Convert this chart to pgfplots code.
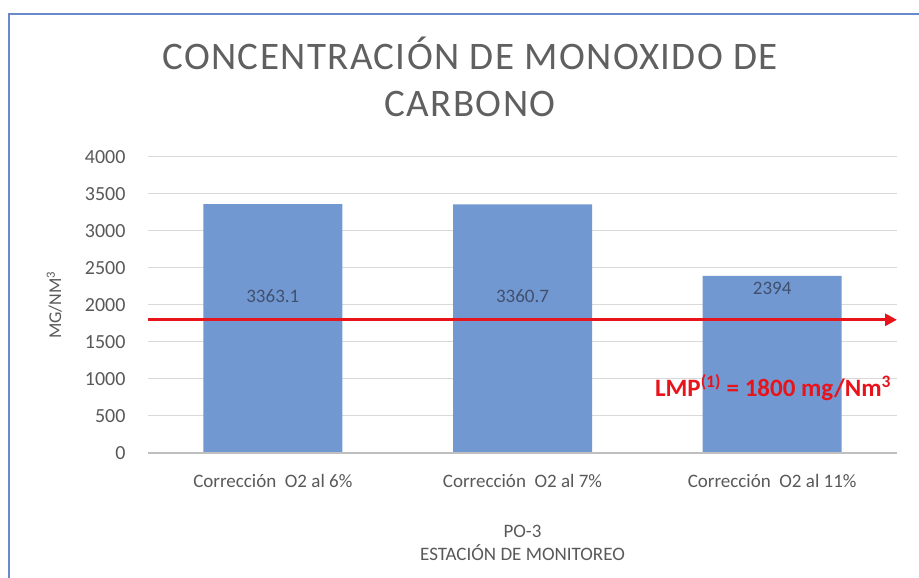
\documentclass[border=0pt]{standalone}
\usepackage{pgfplots}
\pgfplotsset{compat=1.18}
\usepackage{fontspec}
\setmainfont{Carlito}
\newfontfamily\titlefont[LetterSpace=3.6]{Carlito}
\usetikzlibrary{arrows.meta}
\definecolor{barblue}{RGB}{114,152,210}
\definecolor{txtgray}{RGB}{89,89,89}
\definecolor{titlegray}{RGB}{96,96,96}
\definecolor{gridgray}{RGB}{217,217,217}
\definecolor{axgray}{RGB}{191,191,191}
\definecolor{lmpred}{RGB}{232,20,27}
\definecolor{lblblue}{RGB}{64,80,110}
\definecolor{frameblue}{RGB}{106,138,203}
\begin{document}
\begin{tikzpicture}
\useasboundingbox (0pt,0pt) rectangle (919pt,578pt);
\fill[white] (0pt,0pt) rectangle (919pt,578pt);
\draw[frameblue, line width=2.5pt] (9pt,0pt) -- (9pt,564pt) -- (919pt,564pt);
\node[titlegray, anchor=base, font=\titlefont\fontsize{39}{39}\selectfont] at (470pt,508pt) {CONCENTRACIÓN DE MONOXIDO DE};
\node[titlegray, anchor=base, font=\titlefont\fontsize{39}{39}\selectfont] at (470pt,461pt) {CARBONO};
\begin{axis}[
  at={(148pt,125pt)}, anchor=south west,
  scale only axis, width=749pt, height=296pt,
  xmin=-0.5, xmax=2.5, ymin=0, ymax=4000,
  ytick={0,500,...,4000},
  xtick={0,1,2},
  xticklabels={Corrección\ \ O2 al 6\%, Corrección\ \ O2 al 7\%, Corrección\ \ O2 al 11\%},
  major tick length=0pt,
  axis line style={draw=none},
  ymajorgrids, grid style={gridgray, line width=1pt},
  /pgf/number format/assume math mode=true,
  /pgf/number format/1000 sep={},
  yticklabel style={txtgray, font=\fontsize{20}{20}\selectfont, xshift=-19pt},
  xticklabel style={txtgray, font=\fontsize{19}{19}\selectfont, yshift=-18pt},
  xlabel={PO-3\\ESTACIÓN DE MONITOREO},
  xlabel style={txtgray, font=\fontsize{19}{23}\selectfont, align=center, yshift=-30pt},
  ylabel={MG/NM\textsuperscript{3}},
  ylabel style={txtgray, font=\fontsize{18}{18}\selectfont, at={(axis description cs:-0.125,0.5)}, anchor=center},
  clip=false,
]
\addplot[ybar, bar width=139pt, fill=barblue, draw=none] coordinates {(0,3363.1) (1,3360.7) (2,2394)};
\addplot[axgray, line width=1.5pt] coordinates {(-0.5,0) (2.5,0)};
\addplot[lmpred, line width=3pt, -{Triangle[length=12pt,width=12pt]}] coordinates {(-0.5,1800) (2.5,1800)};
\node[lblblue, font=\fontsize{19}{19}\selectfont] at (axis cs:0,2120) {3363.1};
\node[lblblue, font=\fontsize{19}{19}\selectfont] at (axis cs:1,2120) {3360.7};
\node[lblblue, font=\fontsize{19}{19}\selectfont] at (axis cs:2,2230) {2394};
\node[lmpred, anchor=east, font=\bfseries\fontsize{25}{25}\selectfont] at (axis cs:2.49,880) {LMP\textsuperscript{(1)} = 1800 mg/Nm\textsuperscript{3}};
\end{axis}
\end{tikzpicture}
\end{document}
